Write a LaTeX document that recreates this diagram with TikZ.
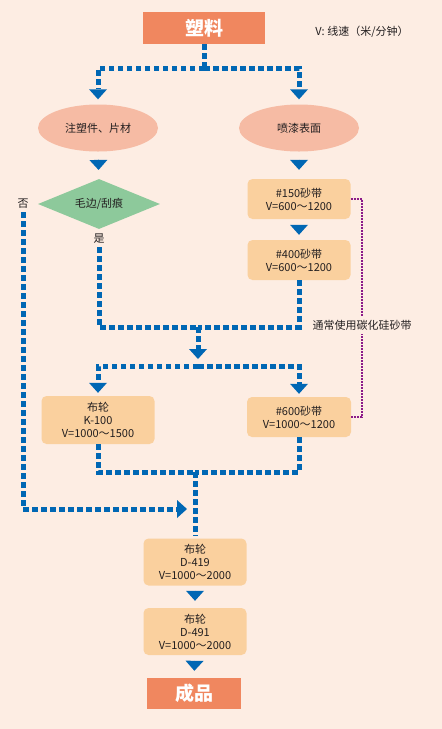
\documentclass[tikz,border=0pt]{standalone}
\usepackage{fontspec}
\setmainfont{Noto Sans CJK SC}
\usepackage{xcolor}
\usetikzlibrary{positioning, shapes.geometric, arrows.meta}

\definecolor{bgpeach}{HTML}{FDEDE3}
\definecolor{endorange}{HTML}{F0875F}
\definecolor{ovalpink}{HTML}{F6BBA4}
\definecolor{beltsand}{HTML}{FAD09E}
\definecolor{checkgreen}{HTML}{8DC99B}
\definecolor{flowblue}{HTML}{0067B4}
\definecolor{notepurple}{HTML}{8B1A89}
\definecolor{txtgray}{HTML}{231F20}

\begin{document}
\begin{tikzpicture}[
    x=1pt, y=-1pt,
    every node/.style={font=\fontsize{11}{13}\selectfont, text=txtgray},
    endbox/.style={rectangle, fill=endorange, minimum width=122pt, minimum height=32pt,
                   text=white, font=\fontsize{19}{21}\selectfont\bfseries},
    oval/.style={ellipse, fill=ovalpink, minimum width=120pt, minimum height=47pt, inner sep=0pt},
    check/.style={diamond, fill=checkgreen, minimum width=122pt, minimum height=50pt,
                  inner sep=0pt, aspect=2.4},
    belt/.style={rectangle, rounded corners=5pt, fill=beltsand, minimum width=103pt,
                 minimum height=40pt, align=center, inner sep=2pt},
    flow/.style={draw=flowblue, line width=5pt, dash pattern=on 5.5pt off 3.5pt},
    flowtip/.style={flow, -{Triangle[width=18pt, length=10pt, line width=0pt]}},
    headonly/.style={draw=flowblue, -{Triangle[width=18pt, length=10pt, line width=0pt]}},
    sicline/.style={draw=notepurple, line width=2.5pt, dash pattern=on 2pt off 1pt}
]

\fill[bgpeach] (0,0) rectangle (442,729);
\useasboundingbox (0,0) rectangle (442,729);

% Start and key
\node[endbox] (plastic) at (204,28) {塑料};
\node (speedkey) at (362,32) {V: 线速（米/分钟）};

% Two kinds of parts
\node[oval] (inj) at (98,128) {注塑件、片材};
\node[oval] (paint) at (299,128) {喷漆表面};

\coordinate (split1) at (204,68);
\draw[flow] (plastic) -- (split1);
\draw[flowtip, shorten >=5pt] (split1) -| (inj);
\draw[flowtip, shorten >=5pt] (split1) -| (paint);

% Left column
\node[check] (burr) at (99,204) {毛边/刮痕};
\node (no) at (23,204) {否};
\node (yes) at (99,239) {是};
\draw[headonly, shorten <=8pt, shorten >=9pt] (inj) -- (burr);

% Right column
\node[belt] (s150) at (299,199) {\#150砂带\\V=600～1200};
\node[belt] (s400) at (299,260) {\#400砂带\\V=600～1200};
\draw[headonly, shorten <=8pt, shorten >=9pt] (paint) -- (s150);
\draw[headonly, shorten <=6pt, shorten >=5pt] (s150) -- (s400);

% First merge
\coordinate (join1) at (198,327);
\coordinate (split2) at (198,366);
\draw[flow] (yes) |- (join1);
\draw[flow] (s400) |- (join1);
\draw[flowtip, shorten >=7pt] (join1) -- (split2);

% Polishing
\node[belt, minimum width=113pt, minimum height=48pt] (k100) at (98,420) {布轮\\K-100\\V=1000～1500};
\node[belt, minimum width=104pt] (s600) at (299,417) {\#600砂带\\V=1000～1200};
\draw[flowtip, shorten >=3pt] (split2) -| (k100);
\draw[flowtip, shorten >=3pt] (split2) -| (s600);

% Silicon carbide note
\node (sicnote) at (362,325) {通常使用碳化硅砂带};
\draw[sicline] (s150.east) -| (sicnote.north);
\draw[sicline] (s600.east) -| (sicnote.south);

% Second merge
\coordinate (join2) at (195,472);
\coordinate (merge) at (195,509);
\draw[flow] (k100) |- (join2);
\draw[flow] (s600) |- (join2);
\draw[flowtip, shorten >=8pt] (no) |- (merge);

% Final buffing
\node[belt, minimum height=47pt] (d419) at (195,562) {布轮\\D-419\\V=1000～2000};
\node[belt, minimum height=47pt] (d491) at (195,631.5) {布轮\\D-491\\V=1000～2000};
\node[endbox, minimum width=94pt, minimum height=31pt] (product) at (194,693.5) {成品};
\draw[flow, shorten >=3pt] (join2) -- (d419);
\draw[headonly, shorten <=5pt, shorten >=7pt] (d419) -- (d491);
\draw[headonly, shorten <=6pt, shorten >=7pt] (d491) -- (product);

\end{tikzpicture}
\end{document}
